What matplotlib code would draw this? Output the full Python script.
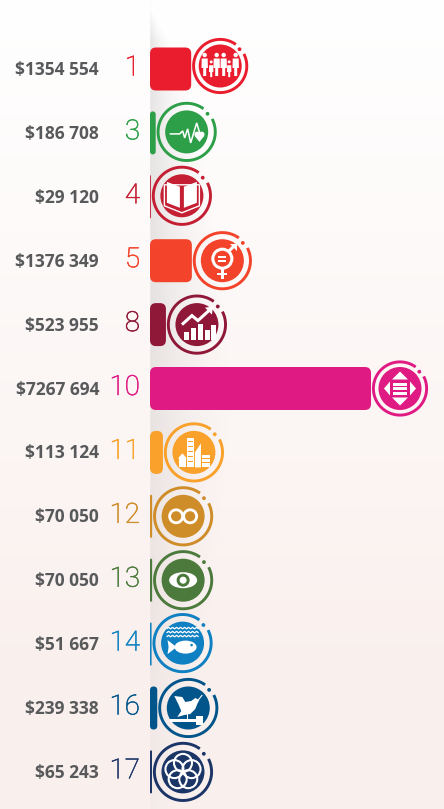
import numpy as np
import matplotlib
matplotlib.use('Agg')
from matplotlib import pyplot as plt
from matplotlib import patheffects
from matplotlib.patches import Circle, FancyBboxPatch, Polygon, Rectangle, Ellipse
from matplotlib.transforms import Affine2D

goals = ['1', '3', '4', '5', '8', '10', '11', '12', '13', '14', '16', '17']
amount_labels = ['$1354 554', '$186 708', '$29 120', '$1376 349', '$523 955', '$7267 694',
                 '$113 124', '$70 050', '$70 050', '$51 667', '$239 338', '$65 243']
# bar lengths as drawn, goal 11 is drawn longer than its label says
bar_values = [1354554, 186708, 29120, 1376349, 523955, 7267694,
              425000, 70050, 70050, 51667, 239338, 65243]
colors = ['#e91d2d', '#2d9f49', '#c41f33', '#f3432a', '#8f1838', '#e01a83',
          '#f9a12a', '#cf8d2a', '#4c7a3c', '#0f80c1', '#02558b', '#1c3567']
ring_r = [28, 30, 30, 29.5, 30, 28, 30, 30, 30, 30, 30, 30]
icon_lift = [3, 1, 1, 0, 0, 0, 0, 0, 0, 1, 0, 0]

W, H = 444, 809
X0 = 150.0
PX_PER_USD = 221.0 / 7267694
ROW0, ROW_H = 69.0, 63.9

fig = plt.figure(figsize=(W / 100, H / 100), dpi=100)
ax = fig.add_axes([0, 0, 1, 1])
xlim = (-X0 / PX_PER_USD, (W - X0) / PX_PER_USD)
ylim = ((H - ROW0) / ROW_H, -ROW0 / ROW_H)

# page background, white at the top to pale pink
top, bot = np.array([1, 1, 1.0]), np.array([0.98, 0.945, 0.935])
t = np.clip(np.linspace(0, 1, H) * 1.25, 0, 1)[:, None, None]
ax.imshow(top * (1 - t) + bot * t, extent=(*xlim, *ylim), aspect='auto', zorder=0)

# fold shadow right of the axis line
yy, xx = np.mgrid[0:H, 0:W]
reach = np.interp(yy, [10, 60, 200, 400, 600, 809], [1, 35, 70, 95, 75, 30])
d = (xx - X0) / reach
alpha = np.where((xx >= X0) & (d < 1), (1 - np.clip(d, 0, 1)) ** 1.8, 0)
alpha = alpha * np.interp(yy, [10, 40, 300, 640, 809], [0.03, 0.14, 0.13, 0.07, 0.03])
shade = np.zeros((H, W, 4))
shade[..., :3] = 0.3
shade[..., 3] = alpha
ax.imshow(shade, extent=(*xlim, *ylim), aspect='auto', zorder=1)
ax.set_xlim(*xlim)
ax.set_ylim(*ylim)
ax.axis('off')


def here(x, y):
    # transform with origin on a point, in image pixels, y down
    a, b = ax.transData.transform((x, y))
    return Affine2D().scale(1, -1).translate(a, b)


def people(g, c, w):
    for x, big in [(-15.5, 1), (-9, 0), (-3.5, 1), (3.5, 1), (9, 0), (15.5, 1)]:
        s = 1 if big else 0.68
        base = 1 if big else 5
        g(Circle((x, base - 9 * s - 3), 2.2 * s, fc=w))
        g(Polygon([(x - 3 * s, base - 8.5 * s), (x + 3 * s, base - 8.5 * s), (x + 3.2 * s, base + 1),
                   (x + 1.5 * s, base + 1), (x + 1.5 * s, base + 9 * s), (x - 1.5 * s, base + 9 * s),
                   (x - 1.5 * s, base + 1), (x - 3.2 * s, base + 1)], fc=w))


def pulse(g, c, w):
    g(Polygon([(-17, 2), (-7, 2), (-4, -1), (-2, 6), (1, -3), (4, 11), (10, -9), (13, 1)],
              closed=False, fill=False, ec=w, lw=1.1))
    g(Circle((10.5, 2.5), 2.8, fc=w))
    g(Circle((15, 2.5), 2.8, fc=w))
    g(Polygon([(8, 4), (17.5, 4), (12.8, 10)], fc=w))


def book(g, c, w):
    g(Polygon([(-15, -14), (-2, -9), (-2, 12), (-15, 7)], fc=w))
    g(Polygon([(15, -14), (2, -9), (2, 12), (15, 7)], fc=w))
    g(Polygon([(-17.5, -11), (-17.5, 10), (0, 17), (17.5, 10), (17.5, -11)],
              fill=False, ec=w, lw=1))


def gender(g, c, w):
    g(Circle((0, -2), 9.5, fc='none', ec=w, lw=2.2))
    g(Rectangle((-4, -5), 8, 2, fc=w))
    g(Rectangle((-4, -1), 8, 2, fc=w))
    g(Rectangle((-1.2, 7), 2.4, 11, fc=w))
    g(Rectangle((-5, 12), 10, 2.4, fc=w))
    g(Polygon([(6, -9), (13, -16)], closed=False, fill=False, ec=w, lw=2.2))
    g(Polygon([(8, -17), (15, -17), (15, -10)], fc=w))


def growth(g, c, w):
    for x, h in [(-13, 8), (-6, 12), (1, 16), (8, 10), (14, 15)]:
        g(Rectangle((x, 15 - h), 5, h, fc=w))
    g(Polygon([(-15, 0), (-5, -9), (1, -4), (12, -14)], closed=False, fill=False, ec=w, lw=2.2))
    g(Polygon([(8, -17), (16, -18), (15, -10)], fc=w))


def inequality(g, c, w):
    g(Polygon([(-8, -9), (8, -9), (0, -17)], fc=w))
    g(Polygon([(-8, 9), (8, 9), (0, 17)], fc=w))
    g(Polygon([(-10, -7), (-10, 7), (-16, 0)], fc=w))
    g(Polygon([(10, -7), (10, 7), (16, 0)], fc=w))
    for y in (-6, -1.5, 3):
        g(Rectangle((-7, y), 14, 3, fc=w))


def city(g, c, w):
    g(Rectangle((-7, -14), 7, 29, fc=w))
    g(Polygon([(1, 15), (1, 0), (7, -9), (7, 15)], fc=w))
    g(Rectangle((8, 3), 8, 12, fc=w))
    g(Rectangle((-15, 6), 7, 9, fc=w))
    g(Polygon([(-16, 6), (-11.5, 1), (-7, 6)], fc=w))
    for y in np.arange(-11, 14, 5):
        g(Rectangle((-6, y), 5, 1, fc=c))
    for y in (6, 10):
        g(Rectangle((8, y), 8, 1, fc=c))


def infinity(g, c, w):
    g(Circle((-7, 0), 6.5, fc='none', ec=w, lw=2))
    g(Circle((7, 0), 6.5, fc='none', ec=w, lw=2))


def eye(g, c, w):
    g(Ellipse((0, 0), 28, 16, fc=w))
    g(Circle((0, 0), 6.5, fc=c))
    g(Circle((0, 0), 3.5, fc=w))


def fish(g, c, w):
    for y in (-15, -11, -7):
        xs = np.arange(-16, 17, 2)
        g(Polygon(list(zip(xs, y + 0.8 * (-1.0) ** (xs / 2))), closed=False, fill=False, ec=w, lw=0.9))
    g(Ellipse((3, 4), 22, 13, fc=w))
    g(Polygon([(-6, 4), (-15, -3), (-14, 4), (-15, 11)], fc=w))
    g(Circle((9, 2), 1.3, fc=c))


def dove(g, c, w):
    g(Polygon([(-14, -12), (-6, -11), (-3, -6), (3, -7), (7, -10), (11, -8), (9, -4), (7, 1), (2, 6),
               (-4, 7), (-11, 9), (-7, 3), (-10, -4)], fc=w))
    g(Polygon([(10, -8), (14, -13)], closed=False, fill=False, ec=w, lw=0.8))
    g(Rectangle((-18, 11), 26, 2.6, fc=w))
    g(Rectangle((8, 8), 7, 9, fc=w))
    g(Rectangle((-1.5, 6), 1.5, 5, fc=w))


def flower(g, c, w):
    for a in np.arange(5) * 2 * np.pi / 5 + np.pi / 2:
        g(Circle((9 * np.cos(a), -9 * np.sin(a)), 9, fc='none', ec=w, lw=1.5))


glyphs = [people, pulse, book, gender, growth, inequality,
          city, infinity, eye, fish, dove, flower]

for i, (goal, label, val, c, r, lift, glyph) in enumerate(
        zip(goals, amount_labels, bar_values, colors, ring_r, icon_lift, glyphs)):
    tr = here(0, i)
    length = ax.transData.transform((val, i))[0] - X0
    ax.add_patch(FancyBboxPatch((0, -21.5), length, 43,
                                boxstyle='round,pad=0,rounding_size=%.2f' % min(6, length / 2),
                                fc=c, ec='none', transform=tr, zorder=3))

    # icon sits just after the bar end, lift is in display pixels, y up
    tr2 = here(val, i) + Affine2D().translate(r + 1, lift)

    def g(p):
        p.set_transform(tr2)
        if p.get_fill() and p.get_facecolor()[3] > 0:
            p.set_edgecolor('none')
        p.set_zorder(5)
        ax.add_patch(p)

    # ring with a gap at upper right, small dot in the gap
    ang = np.radians(np.arange(54, 388, 3))
    R = r - 1.4
    ax.add_patch(Polygon(np.c_[R * np.cos(ang), -R * np.sin(ang)], closed=False, fill=False,
                         ec=c, lw=2.1, transform=tr2, zorder=4))
    ax.add_patch(Circle(((r - 2.4) * np.cos(np.radians(41)), -(r - 2.4) * np.sin(np.radians(41))),
                        1.9, fc=c, ec='none', transform=tr2, zorder=4))
    ax.add_patch(Circle((0, 0), 21.5, fc=c, ec='none', transform=tr2, zorder=4))
    glyph(g, c, 'white')

    ax.annotate(label, xy=(0, i), xycoords='data', xytext=(-51, -1), textcoords='offset pixels',
                ha='right', va='center', color='#58595b', fontsize=12.5, fontweight='bold',
                family='Open Sans')
    num = ax.annotate(goal, xy=(0, i), xycoords='data', xytext=(-10, 1), textcoords='offset pixels',
                      ha='right', va='center', color=c, fontsize=20, fontweight='light', family='Roboto')
    num.set_path_effects([patheffects.withStroke(linewidth=0.4, foreground=c)])

fig.savefig('out.png', dpi=100)
